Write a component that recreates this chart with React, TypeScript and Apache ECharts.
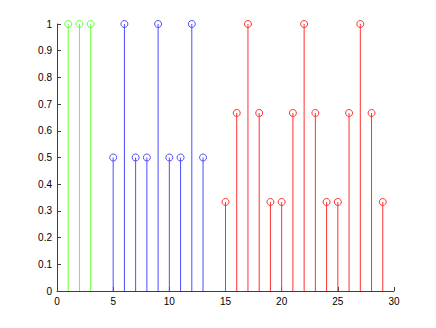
import React, { useEffect, useRef } from "react";
import * as echarts from "echarts";

const greenX = [1, 2, 3];
const greenY = [1, 1, 1];
const blueX = [5, 6, 7, 8, 9, 10, 11, 12, 13];
const blueY = [0.5, 1, 0.5, 0.5, 1, 0.5, 0.5, 1, 0.5];
const redX = [15, 16, 17, 18, 19, 20, 21, 22, 23, 24, 25, 26, 27, 28, 29];
const redY = [1 / 3, 2 / 3, 1, 2 / 3, 1 / 3, 1 / 3, 2 / 3, 1, 2 / 3, 1 / 3, 1 / 3, 2 / 3, 1, 2 / 3, 1 / 3];

function stemSeries(xs: number[], ys: number[], color: string) {
  return {
    type: "custom",
    clip: false,
    data: xs.map((x, i) => [x, ys[i]]),
    renderItem: (params: any, api: any) => {
      const top = api.coord([api.value(0), api.value(1)]);
      const base = api.coord([api.value(0), 0]);
      return {
        type: "group",
        children: [
          {
            type: "line",
            shape: { x1: base[0], y1: base[1], x2: top[0], y2: top[1] },
            style: { stroke: color, lineWidth: 1 },
          },
          {
            type: "circle",
            shape: { cx: top[0], cy: top[1], r: 3.5 },
            style: { stroke: color, fill: "none", lineWidth: 1 },
          },
        ],
      };
    },
  };
}

export default function App() {
  const ref = useRef<HTMLDivElement>(null);
  useEffect(() => {
    const chart = echarts.init(ref.current!, undefined, { renderer: "svg" });
    const axisCommon = {
      axisLine: { show: true, lineStyle: { color: "#404040", width: 1 } },
      axisTick: { show: true, inside: true, length: 4, lineStyle: { color: "#404040" } },
      splitLine: { show: false },
      axisLabel: { color: "#000", fontSize: 10, fontFamily: "Liberation Sans, Arial, sans-serif" },
    };
    chart.setOption({
      animation: false,
      backgroundColor: "#fff",
      grid: { left: 57, right: 42, top: 24, bottom: 37, containLabel: false },
      xAxis: {
        type: "value",
        min: 0,
        max: 30,
        interval: 5,
        ...axisCommon,
        axisLabel: { ...axisCommon.axisLabel, margin: 5 },
      },
      yAxis: {
        type: "value",
        min: 0,
        max: 1,
        interval: 0.1,
        ...axisCommon,
        axisLabel: { ...axisCommon.axisLabel, margin: 5 },
      },
      series: [
        stemSeries(greenX, greenY, "#66ff33"),
        stemSeries(blueX, blueY, "#4d4dff"),
        stemSeries(redX, redY, "#ff3333"),
      ],
    });
    return () => chart.dispose();
  }, []);
  return <div ref={ref} style={{ width: 436, height: 328, position: "absolute", left: 0, top: 0 }} />;
}
